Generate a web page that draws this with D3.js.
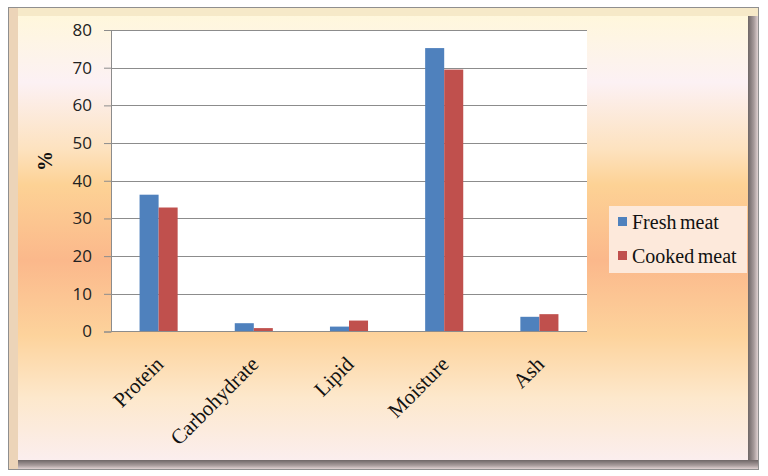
<!DOCTYPE html>
<html>
<head>
<meta charset="utf-8">
<script src="https://cdn.jsdelivr.net/npm/d3@7"></script>
<style>
  body { margin: 0; background: #fff; }
  svg { display: block; }
</style>
</head>
<body>
<svg class="chart"></svg>
<script>
const categories = ['Protein', 'Carbohydrate', 'Lipid', 'Moisture', 'Ash'];
const series = ['Fresh meat', 'Cooked meat'];
const freshMeat = [36.3, 2.2, 1.3, 75.2, 3.9];
const cookedMeat = [32.9, 0.9, 2.9, 69.5, 4.6];
const yTicks = [0, 10, 20, 30, 40, 50, 60, 70, 80];
const colors = ['#4f81bd', '#c0504d'];

const W = 768, H = 476;
const svg = d3.select('.chart').attr('width', W).attr('height', H);
const defs = svg.append('defs');

// background gradient
const bg = defs.append('linearGradient').attr('id', 'bg')
  .attr('x1', 0).attr('y1', 0).attr('x2', 0).attr('y2', 1);
[[0, '#fff7dc'], [0.15, '#fcf1f4'], [0.3, '#fde2bf'], [0.38, '#fdd295'],
 [0.55, '#fbb88b'], [0.72, '#fdd39c'], [0.86, '#fde8cc'], [1, '#fbeeee']]
  .forEach(s => bg.append('stop').attr('offset', s[0]).attr('stop-color', s[1]));

const dark = defs.append('linearGradient').attr('id', 'darkV')
  .attr('x1', 0).attr('y1', 0).attr('x2', 1).attr('y2', 0);
dark.append('stop').attr('offset', 0).attr('stop-color', '#6e6666');
dark.append('stop').attr('offset', 0.6).attr('stop-color', '#a89c9c');
dark.append('stop').attr('offset', 1).attr('stop-color', '#e0d2d2');
const darkH = defs.append('linearGradient').attr('id', 'darkH')
  .attr('x1', 0).attr('y1', 0).attr('x2', 0).attr('y2', 1);
darkH.append('stop').attr('offset', 0).attr('stop-color', '#6e6666');
darkH.append('stop').attr('offset', 0.6).attr('stop-color', '#a89c9c');
darkH.append('stop').attr('offset', 1).attr('stop-color', '#e0d2d2');

// frame with bevel
svg.append('rect').attr('x', 8.5).attr('y', 7.5).attr('width', 750).attr('height', 462)
  .attr('fill', '#f4e6dc').attr('stroke', '#8f8f8f');
svg.append('rect').attr('x', 9).attr('y', 8).attr('width', 749).attr('height', 9).attr('fill', '#f6e9c8');
svg.append('rect').attr('x', 9).attr('y', 8).attr('width', 9).attr('height', 461).attr('fill', '#ecd4b8');
svg.append('rect').attr('x', 748).attr('y', 16).attr('width', 10).attr('height', 453).attr('fill', 'url(#darkV)');
svg.append('rect').attr('x', 18).attr('y', 460).attr('width', 740).attr('height', 9).attr('fill', 'url(#darkH)');
svg.append('rect').attr('x', 18).attr('y', 16).attr('width', 730).attr('height', 444).attr('fill', 'url(#bg)');

// plot area
const plot = {left: 111, right: 587, top: 30, bottom: 331.5};
const y = d3.scaleLinear().domain([0, 80]).range([plot.bottom, plot.top]);
const x0 = d3.scaleBand().domain(categories).range([plot.left, plot.right])
  .paddingInner(0.6).paddingOuter(0.3);
const x1 = d3.scaleBand().domain(series).range([0, x0.bandwidth()]);

svg.append('rect').attr('x', plot.left).attr('y', plot.top)
  .attr('width', plot.right - plot.left).attr('height', plot.bottom - plot.top)
  .attr('fill', '#fff');

const yAxis = svg.append('g').attr('transform', `translate(${plot.left},0)`)
  .call(d3.axisLeft(y).tickValues(yTicks).tickSize(7).tickPadding(12));
yAxis.select('.domain').attr('stroke', '#8c8c8c');
yAxis.selectAll('.tick line').attr('stroke', '#8c8c8c');
yAxis.selectAll('.tick text')
  .attr('font-family', '"Open Sans", sans-serif').attr('font-size', 17).attr('fill', '#222');

// gridlines
svg.append('g').selectAll('line').data(yTicks.filter(d => d > 0)).join('line')
  .attr('x1', plot.left).attr('x2', plot.right)
  .attr('y1', d => Math.round(y(d)) + 0.5).attr('y2', d => Math.round(y(d)) + 0.5)
  .attr('stroke', '#8c8c8c');

// bars
const rows = categories.map((c, i) => ({cat: c, vals: [freshMeat[i], cookedMeat[i]]}));
svg.append('g').selectAll('g').data(rows).join('g')
  .attr('transform', d => `translate(${x0(d.cat)},0)`)
  .selectAll('rect').data(d => d.vals.map((v, j) => ({s: series[j], v, j}))).join('rect')
  .attr('x', d => x1(d.s)).attr('width', x1.bandwidth())
  .attr('y', d => y(d.v)).attr('height', d => y(0) - y(d.v))
  .attr('fill', d => colors[d.j]);

// x axis line
svg.append('line').attr('x1', plot.left).attr('x2', plot.right)
  .attr('y1', plot.bottom).attr('y2', plot.bottom).attr('stroke', '#8c8c8c');

// category labels
svg.append('g').selectAll('text').data(categories).join('text')
  .attr('transform', d => `translate(${x0(d) + x0.bandwidth() / 2 + 6},${plot.bottom + 34}) rotate(-45)`)
  .attr('text-anchor', 'end')
  .attr('font-family', '"Liberation Serif", "Times New Roman", serif')
  .attr('font-size', 21).attr('fill', '#111')
  .text(d => d);

// y title
svg.append('text').attr('transform', 'translate(52,161) rotate(-90)')
  .attr('text-anchor', 'middle')
  .attr('font-family', '"Liberation Serif", serif').attr('font-weight', 'bold')
  .attr('font-size', 20).attr('fill', '#111').text('%');

// legend
const legend = svg.append('g');
legend.append('rect').attr('x', 609).attr('y', 206).attr('width', 138).attr('height', 67)
  .attr('fill', '#fde9db');
const li = legend.selectAll('g').data(series).join('g')
  .attr('transform', (d, i) => `translate(618,${222 + i * 34})`);
li.append('rect').attr('x', 0).attr('y', -5).attr('width', 9).attr('height', 9)
  .attr('fill', (d, i) => colors[i]);
li.append('text').attr('x', 14).attr('y', 7)
  .attr('font-family', '"Liberation Serif", serif').attr('font-size', 20)
  .attr('word-spacing', -1.5).attr('fill', '#111').text(d => d);
</script>
</body>
</html>
